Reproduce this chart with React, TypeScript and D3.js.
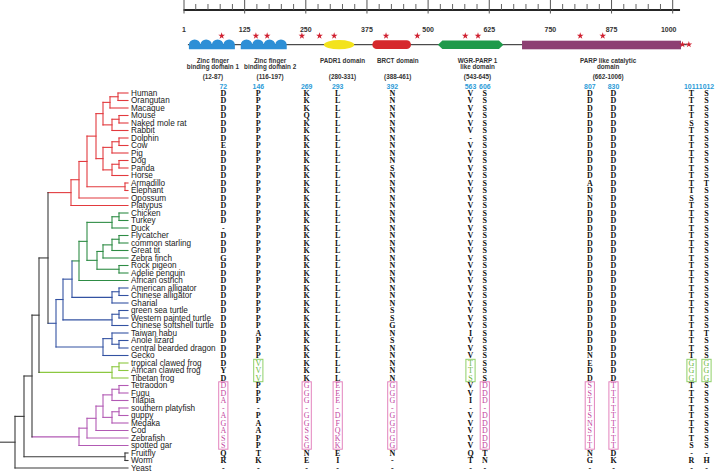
import React from "react";
import * as d3 from "d3";

// ---------------- DATA ----------------
const species = [
  "Human", "Orangutan", "Macaque", "Mouse", "Naked mole rat", "Rabbit", "Dolphin", "Cow", "Pig", "Dog",
  "Panda", "Horse", "Armadillo", "Elephant", "Opossum", "Platypus", "Chicken", "Turkey", "Duck", "Flycatcher",
  "common starling", "Great tit", "Zebra finch", "Rock pigeon", "Adelie penguin", "African ostrich",
  "American alligator", "Chinese alligator", "Gharial", "green sea turtle", "Western painted turtle",
  "Chinese softshell turtle", "Taiwan habu", "Anole lizard", "central bearded dragon", "Gecko",
  "tropical clawed frog", "African clawed frog", "Tibetan frog", "Tetraodon", "Fugu", "Tilapia",
  "southern platyfish", "guppy", "Medaka", "Cod", "Zebrafish", "spotted gar", "Fruitfly", "Worm", "Yeast",
];

const siteNumbers = [72, 146, 269, 293, 392, 563, 606, 807, 830, 1011, 1012];

// residues per site; groups: mammals | birds | reptiles | frogs | fish | outgroups
const site72 = "DDDDDDDEDDDDDDDD DD-DDDGDDD DDDDDDDDDD DYD DDA-AGASS QR-";
const site146 = "PPPPPPPPPPPPPPPP PPPPPPPPPP PPPPPPAPPP VVV PPP-PAAPP TK-";
const site269 = "KKKQKKKKKKKKKKKK KKKKKKKKKK KKKKKKKKKK KKK GGG-GGSSG NE-";
const site293 = "LLLLLLLLLLLLLLLL LLLLLLLLLL LLLLLLLLLL LLL EEE-DFQKK EI-";
const site392 = "NNNNNNNNNNSNNNNN NNNNNNNNNN NNNSSGNSNN NNN GGG-GGGGG N--";
const site563 = "VVVVVV-VVVVVVVVV VVVVVVVVVV VVVVVVIVVV TTS VVI-VVVVV QT-";
const site606 = "SSSSSSSSSSSSSSSS SSSSSSSSSS SSSSSSSSSS SSS DDD-DDDDD TN-";
const site807 = "DDDDDDDDDDDDADND DDDDDDDDDD DDDDDDDDDN EDD SSTTSNSTT NG-";
const site830 = "DDDDDDDDDDDDDDDD DDDDDDDDDD DDDDDDDDDD DDD TTTTTTTTT DK-";
const site1011 = "TTTTSTTTTTTTTTST TTTTTTTTTT TTTTTTTTTT GGG TTTTTTTTS -R-";
const site1012 = "SSSSSSSSSSSSTSSS SSSSSSSSSS SSSSSSTSSS GGG SSSSSSSSS -H-";
const residueColumns = [site72, site146, site269, site293, site392, site563, site606, site807, site830, site1011, site1012]
  .map((s) => s.replace(/ /g, "").split(""));

const frogRows = ["tropical clawed frog", "African clawed frog", "Tibetan frog"];
const fishRows = ["Tetraodon", "Fugu", "Tilapia", "southern platyfish", "guppy", "Medaka", "Cod", "Zebrafish", "spotted gar"];
const frogBoxedSites = [146, 563, 1011, 1012];
const fishBoxedSites = [72, 269, 293, 392, 606, 807, 830];

const axisMajorTicks = [1, 125, 250, 375, 500, 625, 750, 875, 1000];
const axisMinorStep = 25;
const axisExtent = [0, 1015];

const domainNames = [
  ["Zinc finger", "binding domain 1"],
  ["Zinc finger", "binding domain 2"],
  ["PADR1 domain"],
  ["BRCT domain"],
  ["WGR-PARP 1", "like domain"],
  ["PARP like catalytic", "domain"],
];
const domainRanges = ["(12-87)", "(116-197)", "(280-331)", "(388-461)", "(543-645)", "(662-1006)"];
const domainDrawnStart = [11, 117, 287, 386, 520, 692];
const domainDrawnEnd = [105, 211, 349, 465, 654, 1017];
const domainLabelAt = [60, 177, 325, 438, 601, 868];
const domainShapes = ["zinc", "zinc", "ellipse", "rounded", "hexagon", "rect"];
const backboneExtent = [9, 1029];
const starSites = [78, 148, 171, 242, 278, 308, 414, 478, 576, 602, 811, 857, 1020, 1033];

// phylogeny (node depth in tree units, leaves at 128)
type TNode = { x: number; clade?: string; name?: string; children?: TNode[] };
const N = (x: number, clade: string, children: TNode[]): TNode => ({ x, clade, children });
const L = (name: string): TNode => ({ x: 128, name });

const treeData: TNode = N(15, "other", [
  N(24, "other", [
    N(32, "other", [
      N(39, "other", [
        N(48, "other", [
          N(71, "mammal", [
            N(79, "mammal", [
              N(87, "mammal", [
                N(96, "mammal", [
                  N(103, "mammal", [
                    N(110, "mammal", [N(118, "mammal", [L("Human"), L("Orangutan")]), L("Macaque")]),
                    N(112, "mammal", [N(119, "mammal", [L("Mouse"), L("Naked mole rat")]), L("Rabbit")]),
                  ]),
                  N(103, "mammal", [
                    N(112, "mammal", [N(119, "mammal", [L("Dolphin"), L("Cow")]), L("Pig")]),
                    N(112, "mammal", [N(119, "mammal", [L("Dog"), L("Panda")]), L("Horse")]),
                  ]),
                ]),
                N(125, "mammal", [L("Armadillo"), L("Elephant")]),
              ]),
              L("Opossum"),
            ]),
            L("Platypus"),
          ]),
          N(56, "reptile", [
            N(63, "reptile", [
              N(72, "reptile", [
                N(79, "bird", [
                  N(87, "bird", [
                    N(112, "bird", [N(119, "bird", [L("Chicken"), L("Turkey")]), L("Duck")]),
                    N(97, "bird", [
                      N(103, "bird", [
                        N(112, "bird", [N(119, "bird", [L("Flycatcher"), L("common starling")]), L("Great tit")]),
                        L("Zebra finch"),
                      ]),
                      N(119, "bird", [L("Rock pigeon"), L("Adelie penguin")]),
                    ]),
                  ]),
                  L("African ostrich"),
                ]),
                N(112, "reptile", [N(119, "reptile", [L("American alligator"), L("Chinese alligator")]), L("Gharial")]),
              ]),
              N(112, "reptile", [N(119, "reptile", [L("green sea turtle"), L("Western painted turtle")]), L("Chinese softshell turtle")]),
            ]),
            N(103, "reptile", [
              N(112, "reptile", [L("Taiwan habu"), N(119, "reptile", [L("Anole lizard"), L("central bearded dragon")])]),
              L("Gecko"),
            ]),
          ]),
        ]),
        N(112, "frog", [N(119, "frog", [L("tropical clawed frog"), L("African clawed frog")]), L("Tibetan frog")]),
      ]),
      N(79, "fish", [
        N(87, "fish", [
          N(96, "fish", [
            N(103, "fish", [
              N(112, "fish", [N(119, "fish", [L("Tetraodon"), L("Fugu")]), L("Tilapia")]),
              N(112, "fish", [N(119, "fish", [L("southern platyfish"), L("guppy")]), L("Medaka")]),
            ]),
            L("Cod"),
          ]),
          L("Zebrafish"),
        ]),
        L("spotted gar"),
      ]),
    ]),
    N(125, "other", [L("Fruitfly"), L("Worm")]),
  ]),
  L("Yeast"),
]);

// ---------------- LAYOUT / STYLE ----------------
const W = 716;
const H = 472;
const columnX = [223.3, 258.3, 306.7, 337.7, 392.3, 470.5, 484.8, 589.8, 613.5, 691.5, 706.5];
const cladeColors: Record<string, string> = {
  mammal: "#e23a3e",
  bird: "#2e8c45",
  reptile: "#3352a2",
  frog: "#8cc840",
  fish: "#b25ab4",
  other: "#3a3a3a",
};
const domainColors = ["#2d8fd6", "#2d8fd6", "#f3e31c", "#d6282c", "#1f9a4a", "#8d3f73"];
const SANS = "'Liberation Sans', Arial, sans-serif";
const SERIF = "'Liberation Serif', 'Times New Roman', serif";

const yRow = d3.scalePoint<string>().domain(species).range([93, 468]);
const xRes = d3.scaleLinear().domain([1, 1000]).range([184, 672.7]);
const xTree = d3.scaleLinear().domain([0, 128]).range([0, 128]);

type Seg = { x1: number; y1: number; x2: number; y2: number; color: string };

function layoutTree(root: TNode) {
  const segs: Seg[] = [];
  const place = (n: TNode, clade: string): number => {
    if (!n.children) return yRow(n.name!)!;
    const c = n.clade || clade;
    const ys = n.children.map((ch) => {
      const y = place(ch, c);
      segs.push({ x1: xTree(n.x), y1: y, x2: xTree(ch.x), y2: y, color: cladeColors[ch.clade || c] });
      return y;
    });
    segs.push({ x1: xTree(n.x), y1: ys[0], x2: xTree(n.x), y2: ys[ys.length - 1], color: cladeColors[c] });
    return (ys[0] + ys[ys.length - 1]) / 2;
  };
  const rootY = place(root, "other");
  segs.push({ x1: xTree(0), y1: rootY, x2: xTree(root.x), y2: rootY, color: cladeColors.other });
  return segs;
}

function zincPath(x0: number, x1: number) {
  const yc = 44.7, yb = 49.3, n = 4, r = (x1 - x0) / (2 * n), ry = 5.3;
  let d = `M${x0},${yb}L${x0},${yc}`;
  for (let k = 0; k < n; k++) d += `A${r},${ry} 0 0 1 ${x0 + 2 * r * (k + 1)},${yc}`;
  return d + `L${x1},${yb}Z`;
}

function DomainShape({ i }: { i: number }) {
  const x0 = xRes(domainDrawnStart[i]);
  const x1 = xRes(domainDrawnEnd[i]);
  const fill = domainColors[i];
  const shape = domainShapes[i];
  if (shape === "zinc") return <path d={zincPath(x0, x1)} fill={fill} />;
  if (shape === "ellipse")
    return <ellipse cx={(x0 + x1) / 2} cy={44.7} rx={(x1 - x0) / 2} ry={4.6} fill={fill} />;
  if (shape === "rounded")
    return <rect x={x0} y={40.3} width={x1 - x0} height={8.8} rx={4.4} fill={fill} />;
  if (shape === "hexagon") {
    const t = 4.5;
    const pts = [[x0, 44.7], [x0 + t, 40.4], [x1 - t, 40.4], [x1, 44.7], [x1 - t, 49.1], [x0 + t, 49.1]];
    return <polygon points={pts.map((p) => p.join(",")).join(" ")} fill={fill} />;
  }
  return <rect x={x0} y={40.7} width={x1 - x0} height={8.6} fill={fill} />;
}

export default function App() {
  const segs = layoutTree(treeData);
  const minorTicks = d3.range(axisMinorStep, axisExtent[1], axisMinorStep).filter((t) => t % 125 !== 0);
  const star = d3.symbol(d3.symbolStar, 14)()!;
  const lastDomainEnd = d3.max(domainDrawnEnd)!;

  return (
    <svg
      width={W}
      height={H}
      viewBox={`0 0 ${W} ${H}`}
      style={{ position: "absolute", left: 0, top: 0, background: "#fff" }}
    >
      {/* protein length axis */}
      <line x1={xRes(axisExtent[0])} x2={xRes(axisExtent[1])} y1={10} y2={10} stroke="#262626" strokeWidth={2} />
      {minorTicks.map((t) => (
        <line key={"mi" + t} x1={xRes(t)} x2={xRes(t)} y1={4} y2={10} stroke="#555" strokeWidth={0.9} />
      ))}
      {axisMajorTicks.map((t) => (
        <g key={"ma" + t}>
          <line x1={xRes(t)} x2={xRes(t)} y1={0} y2={13.5} stroke="#555" strokeWidth={1} />
          <text
            x={t === 1000 ? xRes(t) - 4 : xRes(t)}
            y={29.3}
            textAnchor="middle"
            dominantBaseline="central"
            fontFamily={SANS}
            fontWeight="bold"
            fontSize={7}
            fill="#333"
          >
            {t}
          </text>
        </g>
      ))}

      {/* domain diagram */}
      <line x1={xRes(backboneExtent[0])} x2={xRes(backboneExtent[1])} y1={44.7} y2={44.7} stroke="#222" strokeWidth={1} />
      {domainNames.map((_, i) => <DomainShape key={"d" + i} i={i} />)}
      {starSites.map((s, i) => (
        <path
          key={"s" + i}
          d={star}
          transform={`translate(${xRes(s)},${s > lastDomainEnd ? 44.5 : 35.8})`}
          fill="#d02030"
        />
      ))}
      {domainNames.map((lines, i) => (
        <g key={"dl" + i} fontFamily={SANS} fontWeight="bold" fontSize={6.3} fill="#333" textAnchor="middle">
          {lines.map((ln, j) => (
            <text key={j} x={xRes(domainLabelAt[i])} y={60.5 + j * 6.4} dominantBaseline="central">
              {ln}
            </text>
          ))}
          <text x={xRes(domainLabelAt[i])} y={76} dominantBaseline="central">
            {domainRanges[i]}
          </text>
        </g>
      ))}

      {/* site numbers */}
      {siteNumbers.map((s, c) => (
        <text
          key={"sn" + s}
          x={columnX[c]}
          y={86}
          textAnchor="middle"
          dominantBaseline="central"
          fontFamily={SANS}
          fontWeight="bold"
          fontSize={6.9}
          fill="#2b9bd8"
        >
          {s}
        </text>
      ))}

      {/* tree */}
      {segs.map((s, i) => (
        <line
          key={"t" + i}
          x1={s.x1}
          y1={s.y1}
          x2={s.x2}
          y2={s.y2}
          stroke={s.color}
          strokeWidth={1.1}
          strokeLinecap="square"
        />
      ))}

      {/* species labels */}
      {species.map((sp) => (
        <text
          key={"l" + sp}
          x={131}
          y={yRow(sp)}
          dominantBaseline="central"
          fontFamily={SANS}
          fontSize={8.2}
          fill="#1a1a1a"
        >
          {sp}
        </text>
      ))}

      {/* boxes */}
      {siteNumbers.map((s, c) => {
        const boxes: { rows: string[]; stroke: string }[] = [];
        if (frogBoxedSites.includes(s)) boxes.push({ rows: frogRows, stroke: "#8fd068" });
        if (fishBoxedSites.includes(s)) boxes.push({ rows: fishRows, stroke: "#e383bd" });
        return boxes.map((b, k) => (
          <rect
            key={"b" + s + k}
            x={columnX[c] - 4.6}
            y={yRow(b.rows[0])! - 3.7}
            width={9.2}
            height={yRow(b.rows[b.rows.length - 1])! - yRow(b.rows[0])! + 7.4}
            fill="none"
            stroke={b.stroke}
            strokeWidth={1}
          />
        ));
      })}

      {/* residues */}
      {residueColumns.map((col, c) =>
        col.map((aa, r) => {
          const sp = species[r];
          const s = siteNumbers[c];
          const inFrog = frogBoxedSites.includes(s) && frogRows.includes(sp);
          const inFish = fishBoxedSites.includes(s) && fishRows.includes(sp);
          const fill = inFrog ? "#6cb83a" : inFish ? "#c4479f" : "#111";
          return (
            <text
              key={"r" + c + "_" + r}
              x={columnX[c]}
              y={yRow(sp)}
              textAnchor="middle"
              dominantBaseline="central"
              fontFamily={SERIF}
              fontWeight={inFrog || inFish ? "normal" : "bold"}
              fontSize={8}
              fill={fill}
            >
              {aa}
            </text>
          );
        })
      )}
    </svg>
  );
}
